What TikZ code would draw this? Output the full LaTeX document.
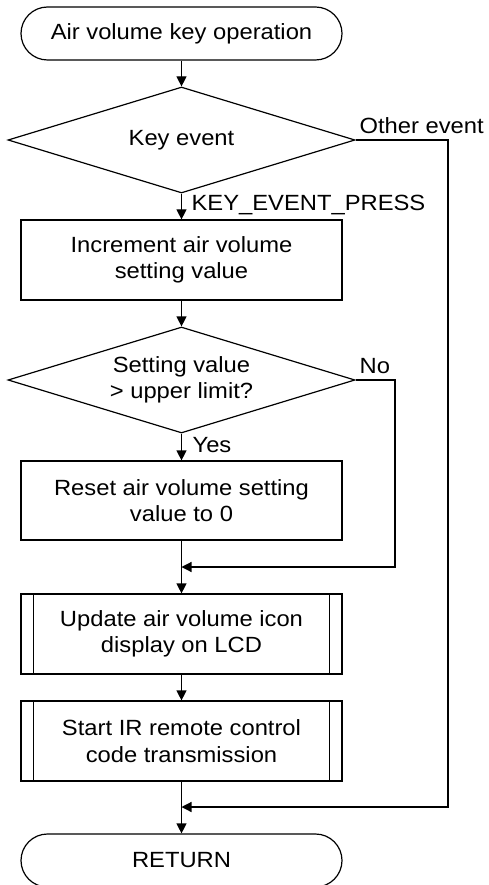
\documentclass[tikz,border=0pt]{standalone}
\usepackage{fontspec}
\setmainfont[FakeStretch=1.08]{Liberation Sans}
\usetikzlibrary{shapes.geometric,arrows.meta}
\begin{document}
\begin{tikzpicture}[x=1pt,y=-1pt,line width=1.2pt,
  font=\fontsize{22}{26.5}\selectfont,
  box/.style={draw,minimum width=321pt,align=center,inner sep=0pt},
  term/.style={box,minimum height=53pt,rounded corners=26.5pt},
  dec/.style={draw,diamond,aspect=3.27,minimum width=347pt,minimum height=106pt,inner sep=0pt},
  dtext/.style={align=center,inner sep=0pt},
  lbl/.style={anchor=base west,inner sep=0pt},
  arr/.style={-{Triangle[length=10pt,width=10pt]}}]
\useasboundingbox (0,0) rectangle (489,885);
\node[term] (start) at (181.5,33.5) {Air volume key operation};
\node[dec] (d1) at (181.5,140) {};
\node[dtext] (d1t) at (d1) {Key event};
\node[box,minimum height=80pt] (b1) at (181.5,260) {Increment air volume\\setting value};
\node[dec] (d2) at (181.5,380) {};
\node[dtext] (d2t) at (d2) {Setting value\\> upper limit?};
\node[box,minimum height=79pt] (b2) at (181.5,500.5) {Reset air volume setting\\value to 0};
\node[box,minimum height=80pt] (b3) at (181.5,634) {Update air volume icon\\display on LCD};
\node[box,minimum height=80pt] (b4) at (181.5,741) {Start IR remote control\\code transmission};
\node[term] (ret) at (181.5,860.5) {RETURN};
\foreach \b in {b3,b4}{
  \draw ([xshift=13pt]\b.north west) -- ([xshift=13pt]\b.south west);
  \draw ([xshift=-13pt]\b.north east) -- ([xshift=-13pt]\b.south east);
}
\coordinate (j1) at (181.5,567);
\coordinate (j2) at (181.5,807);
\coordinate (n1) at (395,567);
\coordinate (o1) at (448,807);
\draw[arr] (start) -- (d1);
\draw[arr] (d1) -- (b1);
\draw[arr] (b1) -- (d2);
\draw[arr] (d2) -- (b2);
\draw (b2) -- (j1);
\draw[arr] (j1) -- (b3);
\draw[arr] (b3) -- (b4);
\draw (b4) -- (j2);
\draw[arr] (j2) -- (ret);
\draw[arr] (d2.east) -| (n1) -- (j1);
\draw[arr] (d1.east) -| (o1) -- (j2);
\node[lbl] (lother) at (359,134) {Other event};
\node[lbl] (lkey) at (191,211) {KEY\_EVENT\_PRESS};
\node[lbl] (lno) at (359,373) {No};
\node[lbl] (lyes) at (192,452) {Yes};
\end{tikzpicture}
\end{document}
